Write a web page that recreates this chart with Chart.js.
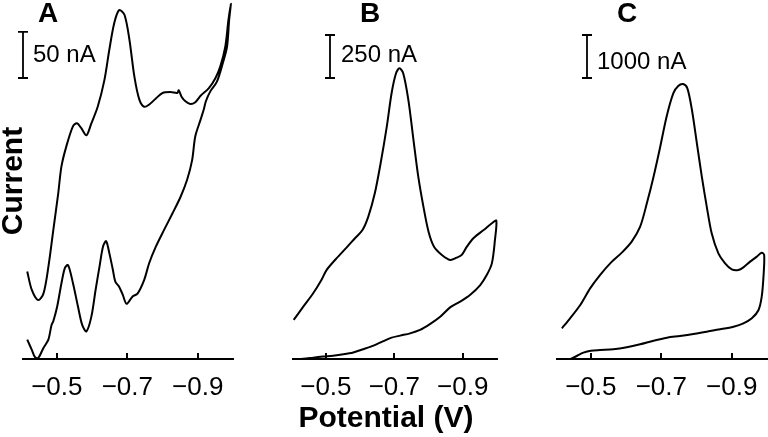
<!DOCTYPE html>
<html>
<head>
<meta charset="utf-8">
<script src="https://cdn.jsdelivr.net/npm/chart.js"></script>
<style>
  body { margin: 0; background: #fff; }
  #wrap { position: relative; width: 768px; height: 437px; }
  canvas { position: absolute; top: 0; }
</style>
</head>
<body>
<div id="wrap">
  <canvas id="panelA" width="262" height="437" style="left:0px"></canvas>
  <canvas id="panelB" width="248" height="437" style="left:262px"></canvas>
  <canvas id="panelC" width="258" height="437" style="left:510px"></canvas>
</div>
<script>
// potential (V) ticks shared by all panels
const xTicks = [-0.5, -0.7, -0.9];
const panelLetters = ["A", "B", "C"];
const scaleBars = [50, 250, 1000]; // nA
const xTitle = "Potential (V)";
const yTitle = "Current";

// panel A: forward scan then return scan (V, nA)
const potA = [-0.416, -0.429, -0.447, -0.462, -0.476, -0.490, -0.504, -0.513, -0.527, -0.546,
  -0.557, -0.569, -0.584, -0.598, -0.616, -0.635, -0.649, -0.663, -0.677, -0.692,
  -0.706, -0.720, -0.734, -0.748, -0.764, -0.781, -0.800, -0.823, -0.842, -0.846,
  -0.854, -0.865, -0.879, -0.893, -0.908, -0.931, -0.950, -0.964, -0.978, -0.987, -0.994,
  -0.989, -0.983, -0.970, -0.954, -0.936, -0.923, -0.917, -0.908, -0.893, -0.884,
  -0.870, -0.851, -0.828, -0.804, -0.781, -0.762, -0.748, -0.729, -0.715, -0.698,
  -0.687, -0.676, -0.666, -0.659, -0.649, -0.640, -0.631, -0.621, -0.610, -0.598,
  -0.584, -0.572, -0.560, -0.546, -0.532, -0.523, -0.513, -0.501, -0.490, -0.485,
  -0.476, -0.462, -0.447, -0.438, -0.429, -0.416];
const curA = [95, 75, 64, 71, 100, 140, 180, 209, 231, 253,
  256, 251, 243, 256, 274, 303, 336, 365, 379, 374,
  347, 307, 282, 274, 277, 283, 289, 290, 289, 292,
  285, 280, 277, 279, 286, 294, 305, 318, 339, 368, 386,
  368, 339, 320, 301, 291, 280, 271, 260, 242, 216,
  195, 176, 158, 140, 122, 104, 86, 71, 68, 60,
  70, 79, 84, 97, 115, 128, 122, 100, 75, 46,
  30, 37, 57, 82, 102, 99, 82, 57, 41, 37,
  21, 12, 1, 2, 10, 21];

// panel B
const potB = [-0.406, -0.434, -0.463, -0.487, -0.502, -0.531, -0.561, -0.585, -0.607, -0.624,
  -0.643, -0.660, -0.678, -0.692, -0.705, -0.715, -0.726, -0.741, -0.756, -0.770,
  -0.785, -0.800, -0.816, -0.839, -0.863, -0.882, -0.897, -0.912, -0.931, -0.961, -0.985, -0.998,
  -0.994, -0.985, -0.970, -0.951, -0.921, -0.892, -0.863, -0.834, -0.804, -0.775,
  -0.746, -0.717, -0.692, -0.668, -0.639, -0.609, -0.580, -0.551, -0.521, -0.492,
  -0.463, -0.434, -0.404];
const curB = [227, 304, 382, 459, 517, 585, 649, 702, 750, 828,
  963, 1138, 1351, 1545, 1661, 1690, 1661, 1506, 1273, 1060,
  886, 740, 653, 605, 576, 589, 605, 653, 702, 750, 789, 804,
  692, 556, 488, 430, 372, 333, 300, 246, 203, 169,
  149, 136, 124, 104, 78, 57, 38, 27, 19, 14,
  8, 2, 0];

// panel C
const potC = [-0.418, -0.441, -0.470, -0.498, -0.526, -0.555, -0.588, -0.616, -0.640, -0.659,
  -0.678, -0.697, -0.715, -0.734, -0.748, -0.762, -0.774, -0.787, -0.801, -0.815,
  -0.829, -0.843, -0.862, -0.881, -0.900, -0.919, -0.933, -0.952, -0.971, -0.985, -0.992,
  -0.990, -0.985, -0.976, -0.957, -0.933, -0.905, -0.867, -0.829, -0.791, -0.753,
  -0.716, -0.678, -0.640, -0.602, -0.564, -0.526, -0.500, -0.479, -0.460, -0.443];
const curC = [713, 946, 1256, 1643, 1953, 2225, 2473, 2729, 3078, 3620,
  4240, 4938, 5636, 6178, 6349, 6395, 6295, 5791, 5016, 4240,
  3543, 2922, 2457, 2225, 2085, 2070, 2132, 2264, 2380, 2473, 2419,
  1915, 1450, 1140, 946, 829, 752, 690, 636, 581, 535,
  496, 426, 341, 271, 225, 209, 194, 147, 70, 0];

const FONT = '"Liberation Sans", Arial, Helvetica, sans-serif';

// tick marks pointing inward, panel letter, scale bar and axis titles
const panelDeco = {
  id: "panelDeco",
  afterDraw(chart, args, o) {
    const ctx = chart.ctx;
    const xs = chart.scales.x, ys = chart.scales.y, ca = chart.chartArea;
    ctx.save();
    ctx.strokeStyle = "#000";
    ctx.fillStyle = "#000";
    ctx.lineWidth = 2;
    xs.ticks.forEach((t, i) => {
      const px = Math.round(xs.getPixelForTick(i));
      ctx.beginPath();
      ctx.moveTo(px, ca.bottom);
      ctx.lineTo(px, ca.bottom - 6);
      ctx.stroke();
    });
    ctx.font = "bold 28px " + FONT;
    ctx.textAlign = "center";
    ctx.textBaseline = "middle";
    ctx.fillText(o.letter, o.letterX, o.letterY);

    const len = ys.getPixelForValue(0) - ys.getPixelForValue(o.bar);
    ctx.lineWidth = 1.8;
    ctx.beginPath();
    ctx.moveTo(o.barX, o.barBottom);
    ctx.lineTo(o.barX, o.barBottom - len);
    ctx.moveTo(o.barX - 5, o.barBottom);
    ctx.lineTo(o.barX + 5, o.barBottom);
    ctx.moveTo(o.barX - 5, o.barBottom - len);
    ctx.lineTo(o.barX + 5, o.barBottom - len);
    ctx.stroke();
    ctx.font = "24px " + FONT;
    ctx.textAlign = "left";
    ctx.fillText(o.bar + " nA", o.labelX, o.labelY);

    if (o.yTitle) {
      ctx.save();
      ctx.translate(o.yTitle.x, o.yTitle.y);
      ctx.rotate(-Math.PI / 2);
      ctx.font = "bold 30px " + FONT;
      ctx.textAlign = "center";
      ctx.textBaseline = "alphabetic";
      ctx.fillText(yTitle, 0, 0);
      ctx.restore();
    }
    if (o.xTitle) {
      ctx.font = "bold 30px " + FONT;
      ctx.textAlign = "center";
      ctx.textBaseline = "alphabetic";
      ctx.fillText(xTitle, o.xTitle.x, o.xTitle.y);
    }
    ctx.restore();
  }
};

function makeChart(id, pot, cur, yMax, pad, deco) {
  const pts = pot.map((p, i) => ({ x: p, y: cur[i] }));
  return new Chart(document.getElementById(id), {
    type: "scatter",
    data: {
      datasets: [{
        data: pts,
        showLine: true,
        borderColor: "#000",
        borderWidth: 2,
        pointRadius: 0,
        tension: 0.3,
        clip: false
      }]
    },
    options: {
      responsive: false,
      animation: false,
      devicePixelRatio: 1,
      layout: { padding: { left: pad[0], right: pad[1], top: 0, bottom: 0 } },
      plugins: {
        legend: { display: false },
        tooltip: { enabled: false },
        panelDeco: deco
      },
      scales: {
        x: {
          type: "linear",
          reverse: true,
          min: -1.0,
          max: -0.404,
          grid: { display: false },
          border: { display: true, color: "#000", width: 2 },
          ticks: {
            color: "#000",
            padding: 5,
            font: { family: FONT, size: 26 },
            callback: (v) => v.toFixed(1).replace("-", "\u2212")
          },
          afterBuildTicks: (s) => { s.ticks = xTicks.map((v) => ({ value: v })); },
          afterFit: (s) => { s.height = 78; }
        },
        y: { display: false, min: 0, max: yMax }
      }
    },
    plugins: [panelDeco]
  });
}

makeChart("panelA", potA, curA, 390, [23, 29], {
  letter: panelLetters[0], letterX: 48, letterY: 14,
  bar: scaleBars[0], barX: 23, barBottom: 78, labelX: 33, labelY: 55,
  yTitle: { x: 22, y: 181 }
});
makeChart("panelB", potB, curB, 2087, [31, 13], {
  letter: panelLetters[1], letterX: 108, letterY: 14,
  bar: scaleBars[1], barX: 68, barBottom: 78, labelX: 79, labelY: 55,
  xTitle: { x: 124, y: 427 }
});
makeChart("panelC", potC, curC, 8349, [47, 1], {
  letter: panelLetters[2], letterX: 117, letterY: 14,
  bar: scaleBars[2], barX: 77, barBottom: 78, labelX: 87, labelY: 62
});
</script>
</body>
</html>
